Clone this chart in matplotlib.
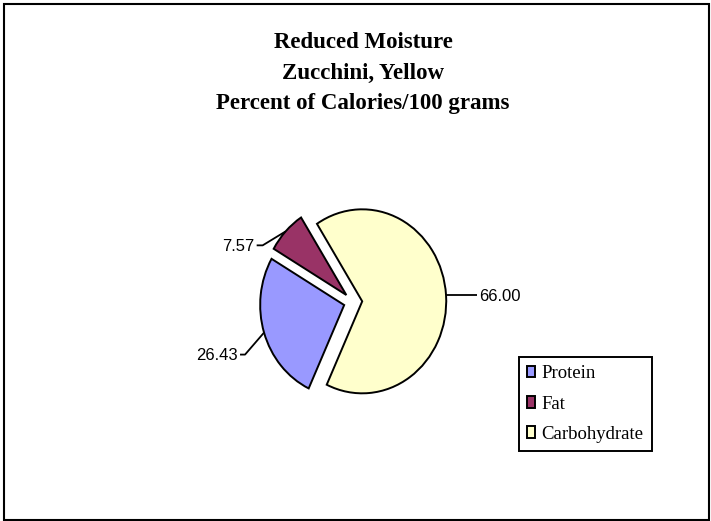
import matplotlib.pyplot as plt
from matplotlib.patches import Rectangle
import numpy as np

labels = ['Protein', 'Fat', 'Carbohydrate']
values = [26.43, 7.57, 66.00]
value_text = ['26.43', '7.57', '66.00']
colors = ['#9999FF', '#993366', '#FFFFCC']
title_lines = ['Reduced Moisture', 'Zucchini, Yellow', 'Percent of Calories/100 grams']

W, H = 711, 521
fig = plt.figure(figsize=(W / 100, H / 100), dpi=100)
ax = fig.add_axes([0, 0, 1, 1])

# pie is a bit squashed sideways in the original, so use pixel scales per axis
sx, sy = 84.0, 92.0       # pixels per unit radius
cx, cy = 353.0, 302.0     # pie centre in pixels (from top-left)

wedges, _ = ax.pie(values, colors=colors, startangle=245, counterclock=False,
                   explode=[0.11] * 3,
                   wedgeprops=dict(edgecolor='black', linewidth=1.4))
ax.set_aspect('auto')
ax.set_xlim(-cx / sx, (W - cx) / sx)
ax.set_ylim(-(H - cy) / sy, cy / sy)
ax.axis('off')


def px(dx, dy):
    # pixel offset -> data offset
    return dx / sx, -dy / sy


# leader lines: (elbow dx, elbow dy, horizontal run) in pixels
leaders = [(-19, 22, -5), (-23, 14, -6), (0, 0, 31)]
for w, txt, (ex, ey, run) in zip(wedges, value_text, leaders):
    tm = np.deg2rad((w.theta1 + w.theta2) / 2)
    x0 = w.center[0] + w.r * np.cos(tm)
    y0 = w.center[1] + w.r * np.sin(tm)
    ddx, ddy = px(ex, ey)
    x1, y1 = x0 + ddx, y0 + ddy
    x2 = x1 + run / sx
    ax.plot([x0, x1, x2], [y0, y1, y1], color='black', lw=1.3, solid_capstyle='butt')
    gap = 2 / sx
    if run < 0:
        ax.text(x2 - gap, y1 - 1 / sy, txt, ha='right', va='center',
                fontsize=12, family='Liberation Sans')
    else:
        ax.text(x2 + gap, y1 - 1 / sy, txt, ha='left', va='center',
                fontsize=12, family='Liberation Sans')

for i, line in enumerate(title_lines):
    fig.text(363 / W, 1 - (43 + 30.5 * i) / H, line, ha='center', va='center',
             fontsize=16.5, fontweight='bold', family='Liberation Serif')

leg = ax.legend(wedges, labels, loc='upper left',
                bbox_to_anchor=(519 / W, 1 - 357 / H), bbox_transform=fig.transFigure,
                prop={'family': 'Liberation Serif', 'size': 13.5},
                handlelength=0.4, handleheight=0.55, handletextpad=0.35,
                labelspacing=0.7, borderpad=0.45, borderaxespad=0,
                fancybox=False, framealpha=1)
leg.get_frame().set_edgecolor('black')
leg.get_frame().set_linewidth(1.4)
for h in leg.legend_handles:
    h.set_linewidth(1.4)

fig.patches.append(Rectangle((3.5 / W, 1.5 / H), (709 - 3.5) / W, 516 / H,
                             transform=fig.transFigure, fill=False,
                             edgecolor='black', linewidth=1.5))

fig.savefig('out.png', dpi=100)
